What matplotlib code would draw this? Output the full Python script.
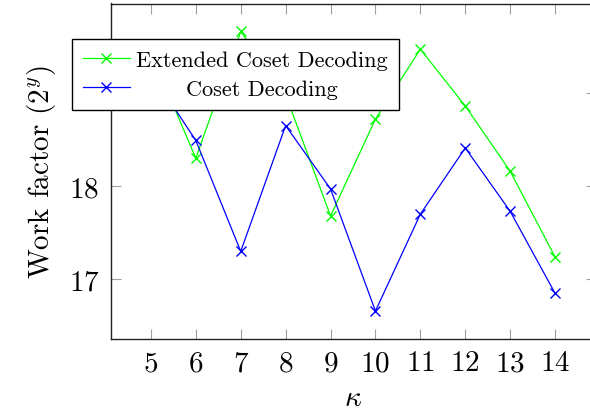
import matplotlib
matplotlib.use("Agg")
import matplotlib.pyplot as plt

plt.rcParams['font.family'] = 'cmr10'
plt.rcParams['mathtext.fontset'] = 'cm'
plt.rcParams['axes.unicode_minus'] = False
plt.rcParams['axes.formatter.use_mathtext'] = True

kappa = [5, 6, 7, 8, 9, 10, 11, 12, 13, 14]
extended = [19.43, 18.30, 19.66, 18.98, 17.68, 18.72, 19.47, 18.86, 18.16, 17.24]
coset = [19.22, 18.49, 17.30, 18.65, 17.97, 16.66, 17.70, 18.41, 17.73, 16.85]
xticks = [5, 6, 7, 8, 9, 10, 11, 12, 13, 14]
yticks = [17, 18, 19]

W, H = 590, 414
fig = plt.figure(figsize=(W / 100, H / 100), dpi=100)
ax = fig.add_axes([110.5 / W, (H - 340) / H, (595.5 - 110.5) / W, (340 - 4.5) / H])

ax.plot(kappa, extended, color='#00ff00', lw=0.9, marker='x', ms=7, mew=1.0,
        label='Extended Coset Decoding')
ax.plot(kappa, coset, color='#0000ff', lw=0.9, marker='x', ms=7, mew=1.0,
        label='Coset Decoding')

# enlarge limits by 10% of the data range on each side
xr = max(kappa) - min(kappa)
ax.set_xlim(min(kappa) - 0.1 * xr, max(kappa) + 0.1 * xr)
lo = min(extended + coset)
hi = max(extended + coset)
ax.set_ylim(lo - 0.1 * (hi - lo), hi + 0.1 * (hi - lo))

ax.set_xticks(xticks)
ax.set_yticks(yticks)
ax.tick_params(direction='in', length=7.5, width=0.8, color='#a0a0a0',
               labelsize=21, top=True, right=True, pad=8)
for s in ax.spines.values():
    s.set_linewidth(1.0)
    s.set_color('#222222')

ax.set_xlabel(r'$\kappa$', fontsize=21, labelpad=6)
ax.set_ylabel(r'Work factor ($2^y$)', fontsize=21, labelpad=8)

leg = ax.legend(loc='upper left', bbox_to_anchor=(72 / W, 1 - 40 / H),
                bbox_transform=fig.transFigure, fontsize=16, frameon=True,
                fancybox=False, framealpha=1, edgecolor='black',
                handlelength=2.1, handletextpad=0.3, borderpad=0.5,
                labelspacing=0.45, borderaxespad=0)
leg.get_frame().set_linewidth(1.0)

# centre the legend entries within the text column
fig.canvas.draw()
r = fig.canvas.get_renderer()
texts = leg.get_texts()
widths = [t.get_window_extent(r).width for t in texts]
wmax = max(widths)
for t, w in zip(texts, widths):
    t.set_x((wmax - w) / 2)

fig.savefig('out.png', dpi=100)
